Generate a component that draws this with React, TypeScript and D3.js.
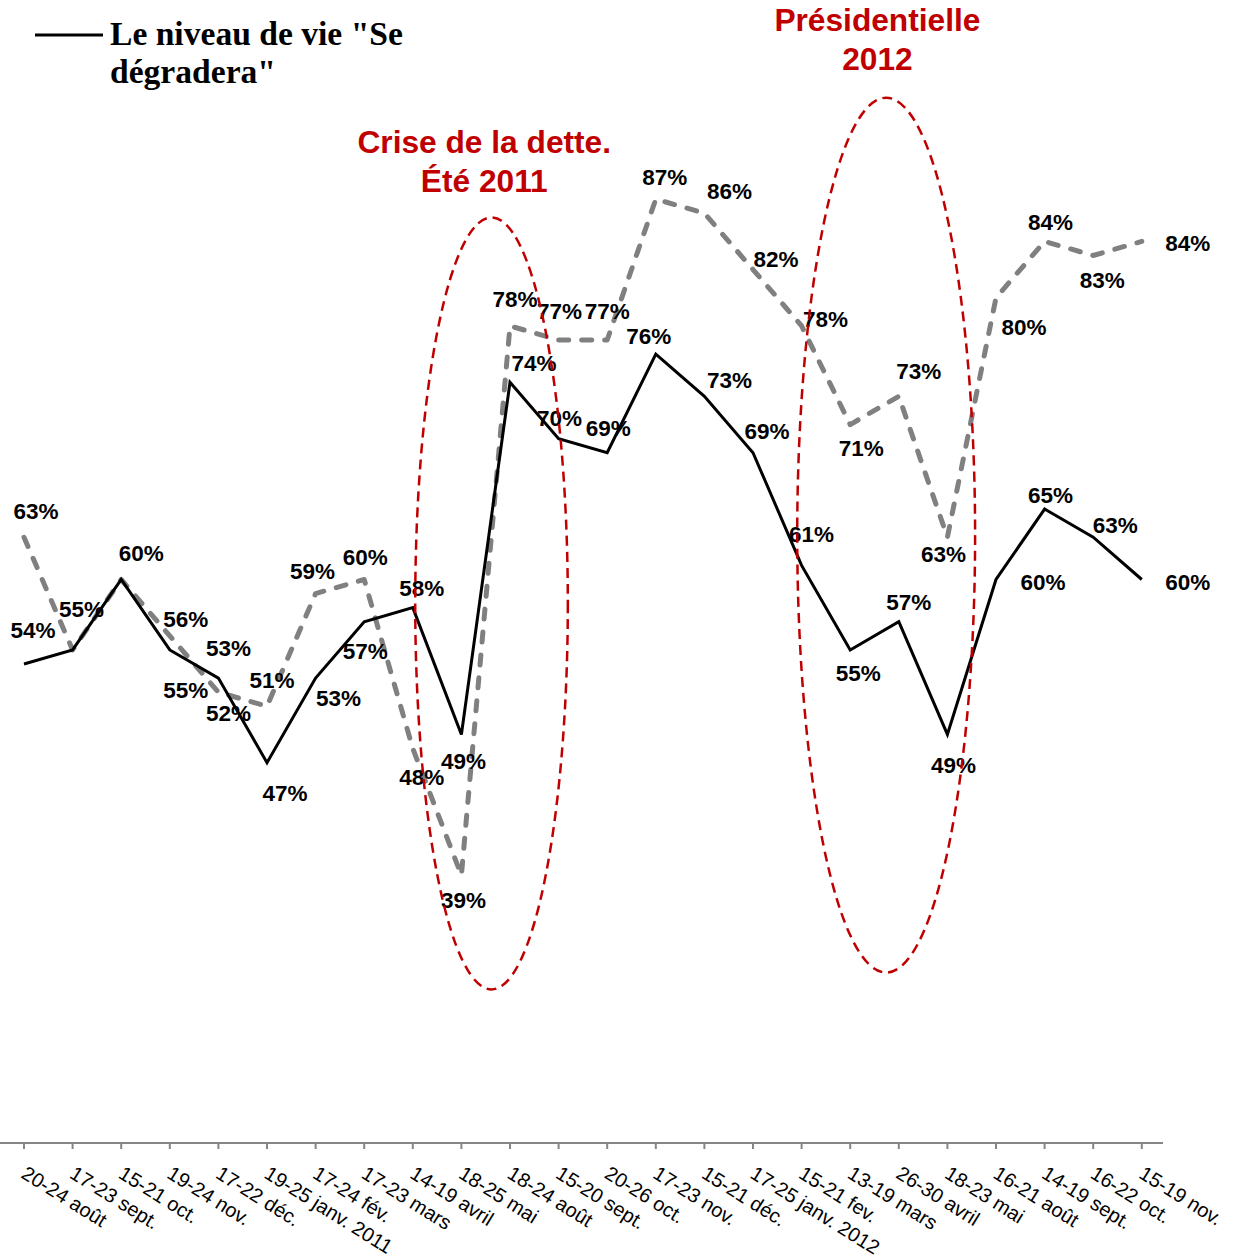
import React from "react";
import * as d3 from "d3";

// enquêtes (dates des vagues)
const categories = [
  "20-24 août", "17-23 sept.", "15-21 oct.", "19-24 nov.", "17-22 déc.",
  "19-25 janv. 2011", "17-24 fév.", "17-23 mars", "14-19 avril", "18-25 mai",
  "18-24 août", "15-20 sept.", "20-26 oct.", "17-23 nov.", "15-21 déc.",
  "17-25 janv. 2012", "15-21 fev.", "13-19 mars", "26-30 avril", "18-23 mai",
  "16-21 août", "14-19 sept.", "16-22 oct.", "15-19 nov.",
];

// Le niveau de vie "Se dégradera" (trait plein)
const seDegradera = [54, 55, 60, 55, 53, 47, 53, 57, 58, 49, 74, 70, 69, 76, 73, 69, 61, 55, 57, 49, 60, 65, 63, 60];
// série en pointillés gris
const serieGrise = [63, 55, 60, 56, 52, 51, 59, 60, 48, 39, 78, 77, 77, 87, 86, 82, 78, 71, 73, 63, 80, 84, 83, 84];

// décalage des étiquettes par rapport au point (px)
const blackLabelOffsets: [number, number][] = [
  [9, -34], [9, -41], [20, -27], [16, 40], [10, -30], [18, 30], [23, 20], [1, 29],
  [9, -20], [2, 27], [24, -19], [1, -21], [1, -25], [-7, -18], [25, -16], [14, -22],
  [10, -31], [8, 23], [10, -20], [6, 31], [47, 2], [6, -14], [22, -12], [46, 2],
];
const greyLabelOffsets: ([number, number] | null)[] = [
  [12, -26], null, null, [16, -17], [10, 21], [5, -26], [-3, -23], [1, -23],
  [9, 28], [2, 25], [5, -27], [1, -29], [0, -29], [9, -22], [25, -22], [23, -11],
  [24, -7], [11, 23], [20, -25], [-4, 17], [28, 29], [6, -19], [9, 25], [46, 2],
];

// annotations : centre en index de catégorie, haut/bas en %
const annotations = [
  { title: ["Crise de la dette.", "Été 2011"], cx: 9.62, rx: 1.57, top: 85.7, bottom: 30.9, titleX: 9.47, titleY: 153 },
  { title: ["Présidentielle", "2012"], cx: 17.74, rx: 1.83, top: 94.2, bottom: 32.1, titleX: 17.56, titleY: 31 },
];

const W = 1233;
const H = 1259;
const RED = "#C00000";

export default function App() {
  const x = d3.scalePoint<string>().domain(categories).range([24, 1141.8]);
  const step = x.step();
  const xi = (i: number) => (x(categories[0]) as number) + i * step;
  const y = d3.scaleLinear().domain([20, 100]).range([1143, 16]);

  const line = d3
    .line<number>()
    .x((_, i) => x(categories[i]) as number)
    .y((d) => y(d));

  const axisY = y(20);

  return (
    <svg width={W} height={H} style={{ position: "absolute", left: 0, top: 0, background: "#fff" }}>
      {/* légende */}
      <line x1={35} x2={103} y1={35} y2={35} stroke="#000" strokeWidth={3} />
      <text fontFamily="'Liberation Serif', serif" fontWeight="bold" fontSize={33.6} fill="#000">
        <tspan x={110} y={45}>Le niveau de vie "Se</tspan>
        <tspan x={110} y={83}>dégradera"</tspan>
      </text>

      {/* axe des x */}
      <line x1={0} x2={1163} y1={axisY} y2={axisY} stroke="#868686" strokeWidth={2} />
      {categories.map((c) => (
        <line key={"t" + c} x1={x(c)} x2={x(c)} y1={axisY} y2={axisY + 6} stroke="#868686" strokeWidth={2} />
      ))}
      {categories.map((c) => (
        <text
          key={"l" + c}
          transform={`translate(${(x(c) as number) - 4},${axisY + 34}) rotate(32)`}
          fontFamily="Arial, 'Liberation Sans', sans-serif"
          fontSize={20}
          fill="#000"
        >
          {c}
        </text>
      ))}

      {/* séries */}
      <path
        d={line(serieGrise) || ""}
        fill="none"
        stroke="#808080"
        strokeWidth={5}
        strokeDasharray="10 13"
        strokeLinecap="round"
        strokeLinejoin="round"
      />
      <path d={line(seDegradera) || ""} fill="none" stroke="#000" strokeWidth={3} strokeLinejoin="miter" />

      {/* étiquettes */}
      <g fontFamily="Arial, 'Liberation Sans', sans-serif" fontWeight="bold" fontSize={22.5} fill="#000" textAnchor="middle">
        {serieGrise.map((v, i) => {
          const o = greyLabelOffsets[i];
          if (!o) return null;
          return (
            <text key={"g" + i} x={(x(categories[i]) as number) + o[0]} y={y(v) + o[1] + 8}>
              {v}%
            </text>
          );
        })}
        {seDegradera.map((v, i) => {
          const o = blackLabelOffsets[i];
          return (
            <text key={"b" + i} x={(x(categories[i]) as number) + o[0]} y={y(v) + o[1] + 8}>
              {v}%
            </text>
          );
        })}
      </g>

      {/* annotations */}
      {annotations.map((a, k) => (
        <g key={"a" + k}>
          <ellipse
            cx={xi(a.cx)}
            cy={(y(a.top) + y(a.bottom)) / 2}
            rx={a.rx * step}
            ry={(y(a.bottom) - y(a.top)) / 2}
            fill="none"
            stroke={RED}
            strokeWidth={2.5}
            strokeDasharray="10 6"
          />
          <text
            fontFamily="Arial, 'Liberation Sans', sans-serif"
            fontWeight="bold"
            fontSize={31.7}
            fill={RED}
            textAnchor="middle"
          >
            {a.title.map((t, j) => (
              <tspan key={j} x={xi(a.titleX)} y={a.titleY + j * 39}>
                {t}
              </tspan>
            ))}
          </text>
        </g>
      ))}
    </svg>
  );
}
